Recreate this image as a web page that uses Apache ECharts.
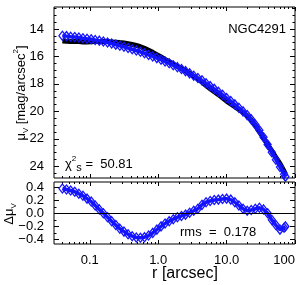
<!DOCTYPE html>
<html><head><meta charset="utf-8">
<script src="https://cdn.jsdelivr.net/npm/echarts@6/dist/echarts.min.js"></script>
<style>html,body{margin:0;padding:0;background:#fff}#c{width:300px;height:285px}</style>
</head><body><div id="c"></div>
<script>
// ---- data ----
const radius = [0.0398,0.0457,0.0525,0.0603,0.0692,0.0794,0.0912,0.105,0.120,0.138,0.158,0.182,0.209,0.240,0.275,0.316,0.363,0.417,0.479,0.550,0.631,0.724,0.832,0.955,1.10,1.26,1.45,1.66,1.91,2.19,2.51,2.88,3.31,3.80,4.37,5.01,5.75,6.61,7.59,8.71,10.0,11.5,13.2,15.1,17.4,20.0,22.9,26.3,30.2,34.7,39.8,45.7,52.5,60.3,69.2,72.4];
const muFit = [14.49,14.52,14.56,14.59,14.62,14.67,14.71,14.75,14.80,14.85,14.91,14.98,15.06,15.14,15.22,15.30,15.39,15.48,15.57,15.66,15.77,15.89,16.00,16.12,16.24,16.37,16.50,16.64,16.78,16.92,17.07,17.23,17.40,17.57,17.74,17.95,18.16,18.36,18.57,18.79,19.02,19.25,19.49,19.74,20.00,20.27,20.58,20.95,21.38,21.88,22.42,22.98,23.52,24.05,24.58,24.75];
const muObs = [14.87,14.89,14.91,14.92,14.92,14.94,14.94,14.93,14.92,14.91,14.91,14.92,14.94,14.96,14.99,15.02,15.07,15.13,15.20,15.29,15.41,15.55,15.70,15.87,16.04,16.22,16.38,16.55,16.72,16.88,17.05,17.24,17.44,17.64,17.87,18.12,18.35,18.57,18.78,19.01,19.25,19.46,19.66,19.86,20.07,20.31,20.63,21.02,21.47,21.94,22.42,22.88,23.34,23.80,24.36,24.55];
const residual = [0.38,0.365,0.35,0.33,0.30,0.27,0.225,0.18,0.12,0.06,0.00,-0.06,-0.12,-0.18,-0.235,-0.28,-0.32,-0.35,-0.37,-0.375,-0.365,-0.34,-0.30,-0.25,-0.20,-0.155,-0.12,-0.09,-0.06,-0.04,-0.02,0.01,0.04,0.07,0.13,0.17,0.19,0.205,0.21,0.22,0.225,0.21,0.17,0.12,0.07,0.04,0.05,0.07,0.085,0.06,0.00,-0.10,-0.18,-0.25,-0.22,-0.20];

const xTickValues = [0.1, 1, 10, 100];
const xTickLabels = ['0.1', '1.0', '10.0', '100'];
const xMinorTicks = [0.04,0.05,0.06,0.07,0.08,0.09,0.2,0.3,0.4,0.5,0.6,0.7,0.8,0.9,2,3,4,5,6,7,8,9,20,30,40,50,60,70,80,90];
const muTickValues = [14, 16, 18, 20, 22, 24];
const muTickLabels = ['14', '16', '18', '20', '22', '24'];
const muMinorTicks = [12.5,13,13.5,14.5,15,15.5,16.5,17,17.5,18.5,19,19.5,20.5,21,21.5,22.5,23,23.5,24.5];
const resTickValues = [-0.4, -0.2, 0, 0.2, 0.4];
const resTickLabels = ['\u22120.4', '\u22120.2', '0.0', '0.2', '0.4'];
const resMinorTicks = [-0.3,-0.1,0.1,0.3];

const galaxyName = 'NGC4291';
const chi2Value = '50.81';
const rmsValue = '0.178';

// ---- layout ----
const X_MIN = 0.03, X_MAX = 100;
const MU_MIN = 12.4, MU_MAX = 24.85;
const RES_MIN = -0.47, RES_MAX = 0.48;
const FONT = "'Liberation Sans', Arial, sans-serif";
const panelA = {left: 54, top: 7, width: 241, height: 171};
const panelB = {left: 54, top: 182, width: 241, height: 62};
const lg = v => Math.log10(v);

const grids = [];
[panelA, panelB].forEach(p => {
  grids.push(Object.assign({show: true, borderColor: '#000', borderWidth: 1, backgroundColor: 'transparent', containLabel: false, outerBoundsMode: 'none'}, p));
  grids.push(Object.assign({show: false, containLabel: false, outerBoundsMode: 'none'}, p));
  grids.push(Object.assign({show: false, containLabel: false, outerBoundsMode: 'none'}, p));
});

function tickAxis(gi, pos, min, max, ticks, len, labels, labelVals, inverse) {
  const a = {
    type: 'value', gridIndex: gi, position: pos, min: min, max: max, inverse: !!inverse,
    axisLine: {show: false, onZero: false}, splitLine: {show: false},
    axisTick: {show: true, inside: true, length: len, customValues: ticks, lineStyle: {color: '#000', width: 1}},
    axisLabel: {show: false}
  };
  if (labels) {
    a.axisLabel = {
      show: true, customValues: labelVals, color: '#000', fontFamily: FONT, fontSize: 13, margin: 10,
      showMinLabel: true, showMaxLabel: true, alignMaxLabel: 'right',
      formatter: v => { const i = labelVals.findIndex(t => Math.abs(t - v) < 1e-6); return i >= 0 ? labels[i] : ''; }
    };
  }
  return a;
}

const xMaj = xTickValues.map(lg), xMin = xMinorTicks.map(lg);
const xAxes = [], yAxes = [];
// panel A
xAxes.push({type: 'log', gridIndex: 0, min: X_MIN, max: X_MAX, show: false, axisLine: {onZero: false}});
xAxes.push(tickAxis(1, 'bottom', lg(X_MIN), lg(X_MAX), xMaj, 4));
xAxes.push(tickAxis(1, 'top', lg(X_MIN), lg(X_MAX), xMaj, 4));
xAxes.push(tickAxis(2, 'bottom', lg(X_MIN), lg(X_MAX), xMin, 2));
xAxes.push(tickAxis(2, 'top', lg(X_MIN), lg(X_MAX), xMin, 2));
yAxes.push({type: 'value', gridIndex: 0, min: MU_MIN, max: MU_MAX, inverse: true, show: false, axisLine: {onZero: false}});
yAxes.push(tickAxis(1, 'left', MU_MIN, MU_MAX, muTickValues, 5, muTickLabels, muTickValues, true));
yAxes.push(tickAxis(1, 'right', MU_MIN, MU_MAX, muTickValues, 5, null, null, true));
yAxes.push(tickAxis(2, 'left', MU_MIN, MU_MAX, muMinorTicks, 2.5, null, null, true));
yAxes.push(tickAxis(2, 'right', MU_MIN, MU_MAX, muMinorTicks, 2.5, null, null, true));
// panel B
xAxes.push({type: 'log', gridIndex: 3, min: X_MIN, max: X_MAX, show: false, axisLine: {onZero: false}});
xAxes.push(tickAxis(4, 'bottom', lg(X_MIN), lg(X_MAX), xMaj, 4, xTickLabels, xMaj));
xAxes.push(tickAxis(4, 'top', lg(X_MIN), lg(X_MAX), xMaj, 4));
xAxes.push(tickAxis(5, 'bottom', lg(X_MIN), lg(X_MAX), xMin, 2));
xAxes.push(tickAxis(5, 'top', lg(X_MIN), lg(X_MAX), xMin, 2));
yAxes.push({type: 'value', gridIndex: 3, min: RES_MIN, max: RES_MAX, show: false, axisLine: {onZero: false}});
yAxes.push(tickAxis(4, 'left', RES_MIN, RES_MAX, resTickValues, 5, resTickLabels, resTickValues));
yAxes.push(tickAxis(4, 'right', RES_MIN, RES_MAX, resTickValues, 5));
yAxes.push(tickAxis(5, 'left', RES_MIN, RES_MAX, resMinorTicks, 2.5));
yAxes.push(tickAxis(5, 'right', RES_MIN, RES_MAX, resMinorTicks, 2.5));

const BLUE = '#1414ff';
const diamond = {symbol: 'diamond', symbolSize: [7, 9], showAllSymbol: true,
  itemStyle: {color: 'rgba(0,0,0,0)', borderColor: BLUE, borderWidth: 1.3}};

const option = {
  animation: false,
  grid: grids, xAxis: xAxes, yAxis: yAxes,
  series: [
    {type: 'line', xAxisIndex: 0, yAxisIndex: 0, data: radius.map((r, i) => [r, muObs[i]]),
     showSymbol: false, lineStyle: {color: '#000', width: 5}, z: 2},
    Object.assign({type: 'line', xAxisIndex: 0, yAxisIndex: 0, data: radius.map((r, i) => [r, muFit[i]]),
     lineStyle: {color: BLUE, width: 3.5}, z: 3}, diamond),
    Object.assign({type: 'line', xAxisIndex: 5, yAxisIndex: 5, data: radius.map((r, i) => [r, residual[i]]),
     lineStyle: {color: BLUE, width: 3.5}, z: 3,
     markLine: {silent: true, symbol: 'none', label: {show: false}, lineStyle: {color: '#000', width: 1, type: 'solid'},
       data: [{yAxis: 0}]}}, diamond)
  ],
  graphic: [
    {type: 'text', x: 286, y: 29, style: {text: galaxyName, align: 'right', verticalAlign: 'middle', fontSize: 13, fontFamily: FONT, fill: '#000'}},
    {type: 'text', x: 65, y: 164, style: {text: '{m|\u03c7}{sup|2}{sub|s}{m| =  ' + chi2Value + '}', align: 'left', verticalAlign: 'middle', fill: '#000',
      rich: {m: {fontSize: 13, fontFamily: FONT, lineHeight: 18, verticalAlign: 'middle'},
             sup: {fontSize: 8, fontFamily: FONT, lineHeight: 18, verticalAlign: 'top'},
             sub: {fontSize: 11, fontFamily: FONT, lineHeight: 18, verticalAlign: 'bottom'}}}},
    {type: 'text', x: 180, y: 232, style: {text: 'rms  =  ' + rmsValue, align: 'left', verticalAlign: 'middle', fontSize: 13, fontFamily: FONT, fill: '#000'}},
    {type: 'text', x: 21, y: 93, rotation: Math.PI / 2, style: {text: '{m|\u03bc}{sub|V} {m|[mag/arcsec}{sup|2}{m|]}', align: 'center', verticalAlign: 'middle', fill: '#000',
      rich: {m: {fontSize: 13, fontFamily: FONT, lineHeight: 18, verticalAlign: 'middle'},
             sup: {fontSize: 8, fontFamily: FONT, lineHeight: 18, verticalAlign: 'top'},
             sub: {fontSize: 8, fontFamily: FONT, lineHeight: 18, verticalAlign: 'bottom'}}}},
    {type: 'text', x: 9, y: 214, rotation: Math.PI / 2, style: {text: '{m|\u0394\u03bc}{sub|V}', align: 'center', verticalAlign: 'middle', fill: '#000',
      rich: {m: {fontSize: 13, fontFamily: FONT, lineHeight: 18, verticalAlign: 'middle'},
             sub: {fontSize: 8, fontFamily: FONT, lineHeight: 18, verticalAlign: 'bottom'}}}},
    {type: 'text', x: 185, y: 274, style: {text: 'r [arcsec]', align: 'center', verticalAlign: 'middle', fontSize: 16, fontFamily: FONT, fill: '#000'}}
  ]
};
const chart = echarts.init(document.getElementById('c'), null, {renderer: 'canvas'});
chart.setOption(option);
</script></body></html>
